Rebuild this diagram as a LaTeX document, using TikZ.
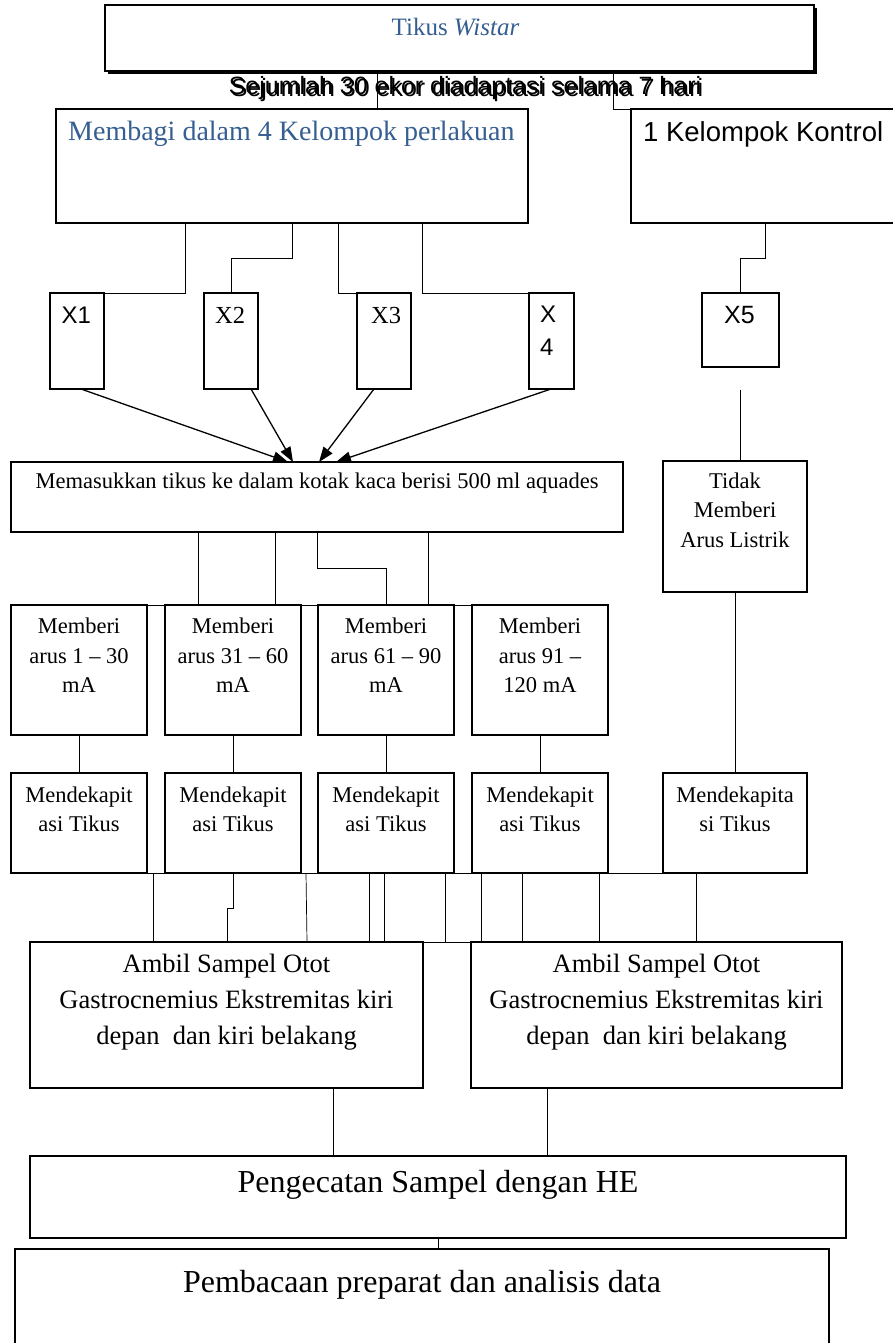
\documentclass[tikz,border=0pt]{standalone}
\usepackage{fontspec}
\setmainfont{Liberation Serif}
\newfontfamily\arialfont{Liberation Sans}
\usepackage{tikz}
\usetikzlibrary{calc,arrows.meta,shadows}
\usepackage{xcolor}
\definecolor{judulblue}{RGB}{54,95,145}
\tikzset{
  box/.style={draw, line width=1.2pt, fill=white, anchor=north west, inner sep=0pt, outer sep=0pt},
  link/.style={line width=0.7pt},
  panah/.style={line width=1.3pt, -{Triangle[length=15pt,width=11pt]}},
  serif/.style={inner sep=0pt, align=center, font=\fontsize{22.5}{29.5}\selectfont},
  sans/.style={inner sep=0pt, font=\arialfont\fontsize{25}{33}\selectfont},
}

\begin{document}
\begin{tikzpicture}[x=1pt,y=-1pt]
\useasboundingbox (0,0) rectangle (893,1343);

\node [box, minimum width=709pt, minimum height=66pt, drop shadow={shadow xshift=3pt,shadow yshift=-3pt,fill=black,opacity=1}] (tikus) at (105,5) {};
\node [anchor=base, inner sep=0pt, text=judulblue, font=\fontsize{25}{30}\selectfont] (tikusT) at ($(tikus.north)+(-4,31)$) {Tikus \textit{Wistar}};
\node [sans, anchor=base] (adapt1) at (465,95) {Sejumlah 30 ekor diadaptasi selama 7 hari};
\node [sans, anchor=base] (adapt2) at (467,97) {Sejumlah 30 ekor diadaptasi selama 7 hari};

\node [box, minimum width=472pt, minimum height=114pt] (bagi) at (56,109) {};
\node [anchor=base west, inner sep=0pt, text=judulblue, font=\fontsize{28}{33}\selectfont] (bagiT) at ($(bagi.north west)+(12,32)$) {Membagi dalam 4 Kelompok perlakuan};
\node [box, minimum width=270pt, minimum height=114pt] (kontrol) at (631,109) {};
\node [sans, anchor=base west, font=\arialfont\fontsize{27.5}{33}\selectfont] (kontrolT) at ($(kontrol.north west)+(12,33)$) {1 Kelompok Kontrol};

\node [box, minimum width=54pt, minimum height=96pt] (x1) at (50,293) {};
\node [box, minimum width=54pt, minimum height=96pt] (x2) at (204,293) {};
\node [box, minimum width=54pt, minimum height=96pt] (x3) at (357,293) {};
\node [box, minimum width=45pt, minimum height=96pt] (x4) at (529,293) {};
\node [box, minimum width=77pt, minimum height=74pt] (x5) at (702,293) {};
\node [sans, anchor=base west, font=\arialfont\fontsize{24}{33}\selectfont] (x1T) at ($(x1.north west)+(11.5,30)$) {X1};
\node [serif, anchor=base west, font=\fontsize{24.5}{33}\selectfont] (x2T) at ($(x2.north west)+(11,30)$) {X2};
\node [serif, anchor=base west, font=\fontsize{24.5}{33}\selectfont] (x3T) at ($(x3.north west)+(14,30)$) {X3};
\node [sans, anchor=north west, align=left, font=\arialfont\fontsize{24}{33}\selectfont] (x4T) at ($(x4.north west)+(11,13)$) {X\\4};
\node [sans, anchor=base west] (x5T) at ($(x5.north west)+(22,30)$) {X5};

\node [box, minimum width=612pt, minimum height=70pt] (masuk) at (11,462) {};
\node [serif, anchor=base] (masukT) at ($(masuk.north)+(0,26)$) {Memasukkan tikus ke dalam kotak kaca berisi 500 ml aquades};
\node [box, minimum width=144pt, minimum height=131pt] (tidak) at (663,461) {};
\node [serif, anchor=north] (tidakT) at ($(tidak.north)+(0,11.5)$) {Tidak\\Memberi\\Arus Listrik};

\foreach \i/\xx/\teks in {1/11/{arus 1 -- 30\\mA}, 2/165/{arus 31 -- 60\\mA}, 3/318/{arus 61 -- 90\\mA}, 4/472/{arus 91 --\\120 mA}} {
  \node [box, minimum width=136pt, minimum height=130pt] (beri\i) at (\xx,605) {};
  \node [serif, anchor=north] (beriT\i) at ($(beri\i.north)+(0,13)$) {Memberi\\\teks};
}
\foreach \i/\xx in {1/11,2/165,3/318,4/472} {
  \node [box, minimum width=136pt, minimum height=100pt] (dekap\i) at (\xx,773) {};
  \node [serif, anchor=north] (dekapT\i) at ($(dekap\i.north)+(0,13.5)$) {Mendekapit\\asi Tikus};
  \draw [link] (beri\i) -- (dekap\i);
}
\node [box, minimum width=144pt, minimum height=100pt] (dekap5) at (663,773) {};
\node [serif, anchor=north] (dekapT5) at ($(dekap5.north)+(0,13.5)$) {Mendekapita\\si Tikus};

\node [box, minimum width=393pt, minimum height=146pt] (ambil1) at (30,942) {};
\node [box, minimum width=371pt, minimum height=146pt] (ambil2) at (471,942) {};
\node [serif, anchor=north, font=\fontsize{26.5}{36}\selectfont] (ambilT1) at ($(ambil1.north)+(0,12)$) {Ambil Sampel Otot\\Gastrocnemius Ekstremitas kiri\\depan\ \ dan kiri belakang};
\node [serif, anchor=north, font=\fontsize{26.5}{36}\selectfont] (ambilT2) at ($(ambil2.north)+(0,12)$) {Ambil Sampel Otot\\Gastrocnemius Ekstremitas kiri\\depan\ \ dan kiri belakang};

\node [box, minimum width=816pt, minimum height=82pt] (cat) at (30,1156) {};
\node [serif, anchor=base, font=\fontsize{32}{36}\selectfont] (catT) at ($(cat.north)+(0,36)$) {Pengecatan Sampel dengan HE};
\node [box, line width=2.2pt, minimum width=814pt, minimum height=130pt] (baca) at (15,1249) {};
\node [serif, anchor=base, font=\fontsize{32}{36}\selectfont] (bacaT) at ($(baca.north)+(0,43)$) {Pembacaan preparat dan analisis data};

\draw [link] ($(tikus.south west)+(272,0)$) -- ($(bagi.north west)+(321,0)$);
\draw [link] ($(tikus.south west)+(508,0)$) |- (kontrol.north west);

\draw [link] ($(bagi.south west)+(129,0)$) |- (x1.north east);
\draw [link] ($(bagi.south west)+(236,0)$) -- ++(0,35) -| (x2.north);
\draw [link] ($(bagi.south west)+(282,0)$) |- (x3.north west);
\draw [link] ($(bagi.south west)+(366,0)$) |- (x4.north west);
\draw [link] ($(kontrol.south west)+(134,0)$) -- ++(0,35) -| (x5.north);

\draw [panah] ($(x1.south west)+(31,0)$) -- ($(masuk.north west)+(277,0)$);
\draw [panah] ($(x2.south west)+(47,0)$) -- ($(masuk.north west)+(282,0)$);
\draw [panah] ($(x3.south west)+(17,0)$) -- ($(masuk.north west)+(308,0)$);
\draw [panah] ($(x4.south west)+(22,0)$) -- ($(masuk.north west)+(325,0)$);

\coordinate (x5end) at ($(x5.south)+(0,23)$);
\draw [link] (x5end) -- (x5end |- tidak.north);

\draw [link] ($(masuk.south west)+(187,0)$) -- ($(beri2.north west)+(33,0)$);
\draw [link] ($(masuk.south west)+(264,0)$) -- ($(beri2.north west)+(110,0)$);
\draw [link] ($(masuk.south west)+(306,0)$) -- ++(0,36) -| ($(beri3.north west)+(68,0)$);
\draw [link] ($(masuk.south west)+(417,0)$) -- ($(beri3.north west)+(110,0)$);
\draw [link] (beri1.north east) -- (beri4.north west);

\draw [link] (tidak) -- (dekap5);
\draw [link] (dekap1.south east) -- (dekap5.south west);

\draw [link] ($(dekap1.south east)+(6,0)$) -- ($(ambil1.north west)+(123,0)$);
\draw [link] ($(dekap2.south west)+(68,0)$) -- ++(0,35) -| ($(ambil1.north west)+(197,0)$);
\draw [link] ($(dekap2.south east)+(5,0)$) -- ($(ambil1.north west)+(277,0)$);
\draw [link] ($(dekap3.south west)+(51,0)$) -- ($(ambil1.north west)+(339,0)$);
\draw [link] ($(dekap3.south west)+(66,0)$) -- ($(ambil1.north west)+(354,0)$);
\draw [link] ($(dekap3.south west)+(127,0)$) |- (ambil2.north west);
\draw [link] ($(dekap4.south west)+(9,0)$) -- ($(ambil2.north west)+(10,0)$);
\draw [link] ($(dekap4.south west)+(50,0)$) -- ($(ambil2.north west)+(51,0)$);
\draw [link] ($(dekap4.south west)+(127,0)$) -- ($(ambil2.north west)+(128,0)$);
\draw [link] ($(dekap5.south west)+(33,0)$) -- ($(ambil2.north west)+(225,0)$);
\draw [link] (ambil1.north east) -- (ambil2.north west);

\draw [link] ($(ambil1.south west)+(303,0)$) -- ($(cat.north west)+(303,0)$);
\draw [link] ($(ambil2.south west)+(76,0)$) -- ($(cat.north west)+(517,0)$);
\draw [link] ($(cat.south west)+(408,0)$) -- ($(baca.north west)+(423,0)$);
\end{tikzpicture}
\end{document}
